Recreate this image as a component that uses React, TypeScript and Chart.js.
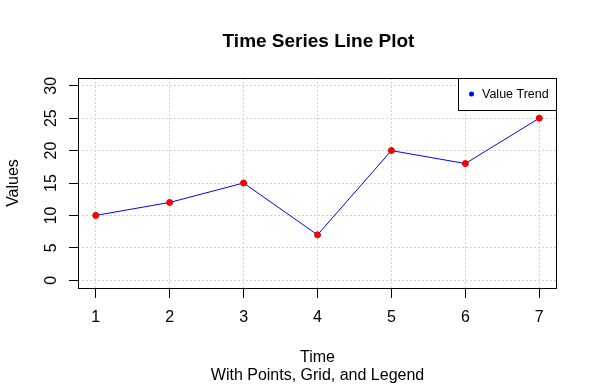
import React, { useEffect, useRef } from 'react';
import { Chart, registerables } from 'chart.js';

Chart.register(...registerables);

const timePoints = [1, 2, 3, 4, 5, 6, 7];
const values = [10, 12, 15, 7, 20, 18, 25];
const chartTitle = 'Time Series Line Plot';
const xTitle = 'Time';
const subTitle = 'With Points, Grid, and Legend';
const yTitle = 'Values';
const seriesLabel = 'Value Trend';

const FONT = "'Liberation Sans', Arial, sans-serif";

const rPlugin = {
  id: 'rStyle',
  afterDraw(chart: any) {
    const { ctx, chartArea: a } = chart;
    ctx.save();
    // plot box
    ctx.strokeStyle = '#000';
    ctx.lineWidth = 1;
    ctx.strokeRect(a.left + 0.5, a.top + 0.5, a.right - a.left - 1, a.bottom - a.top);
    // title
    ctx.fillStyle = '#000';
    ctx.textAlign = 'center';
    ctx.textBaseline = 'alphabetic';
    const cx = (a.left + a.right) / 2;
    ctx.font = `bold 19px ${FONT}`;
    ctx.fillText(chartTitle, cx + 1, 47);
    ctx.font = `16px ${FONT}`;
    ctx.fillText(xTitle, cx, 362);
    ctx.fillText(subTitle, cx, 380);
    ctx.save();
    ctx.translate(18, (a.top + a.bottom) / 2);
    ctx.rotate(-Math.PI / 2);
    ctx.fillText(yTitle, 0, 0);
    ctx.restore();
    // legend
    const ds = chart.data.datasets[0];
    const lw = 99, lh = 32;
    const lx = a.right - lw, ly = a.top;
    ctx.fillStyle = '#fff';
    ctx.fillRect(lx, ly, lw, lh);
    ctx.strokeStyle = '#000';
    ctx.strokeRect(lx + 0.5, ly + 0.5, lw - 1, lh);
    ctx.fillStyle = ds.legendDot;
    ctx.beginPath();
    ctx.arc(lx + 13.5, ly + 16, 2.5, 0, Math.PI * 2);
    ctx.fill();
    ctx.fillStyle = '#000';
    ctx.font = `12.5px ${FONT}`;
    ctx.textAlign = 'left';
    ctx.textBaseline = 'middle';
    ctx.fillText(ds.label, lx + 24, ly + 16.5);
    ctx.restore();
  },
};

export default function App() {
  const ref = useRef<HTMLCanvasElement>(null);
  useEffect(() => {
    const chart = new Chart(ref.current!, {
      type: 'line',
      data: {
        datasets: [
          {
            label: seriesLabel,
            data: timePoints.map((t, i) => ({ x: t, y: values[i] })),
            borderColor: 'blue',
            borderWidth: 1,
            tension: 0,
            pointRadius: 3,
            pointBorderWidth: 1,
            pointBackgroundColor: '#ff0000',
            pointBorderColor: '#e00000',
            legendDot: 'blue',
          } as any,
        ],
      },
      options: {
        animation: false,
        responsive: false,
        devicePixelRatio: 1,
        layout: { padding: { top: 78, right: 41, bottom: 0, left: 0 } },
        plugins: { legend: { display: false }, title: { display: false }, tooltip: { enabled: false } },
        scales: {
          x: {
            type: 'linear',
            min: 0.76,
            max: 7.24,
            afterFit: (s: any) => { s.height = 98; },
            ticks: {
              stepSize: 1,
              includeBounds: false,
              autoSkip: false,
              color: '#000',
              font: { family: FONT, size: 16 },
              padding: 10,
              maxRotation: 0,
              minRotation: 0,
            },
            grid: { color: '#d3d3d3', tickColor: '#000', tickLength: 10, lineWidth: 1 },
            border: { display: false, dash: [2, 2] },
          },
          y: {
            type: 'linear',
            min: -1.2,
            max: 31.2,
            afterFit: (s: any) => { s.width = 78; },
            ticks: {
              stepSize: 5,
              includeBounds: false,
              autoSkip: false,
              color: '#000',
              font: { family: FONT, size: 16 },
              padding: 9,
              minRotation: 90,
              maxRotation: 90,
              crossAlign: 'center',
            },
            grid: { color: '#d3d3d3', tickColor: '#000', tickLength: 9, lineWidth: 1 },
            border: { display: false, dash: [2, 2] },
          },
        },
      },
      plugins: [rPlugin],
    });
    return () => chart.destroy();
  }, []);
  return (
    <div style={{ position: 'fixed', left: 0, top: 0, width: 598, height: 386, background: '#fff' }}>
      <canvas ref={ref} width={598} height={386} style={{ width: 598, height: 386 }} />
    </div>
  );
}
